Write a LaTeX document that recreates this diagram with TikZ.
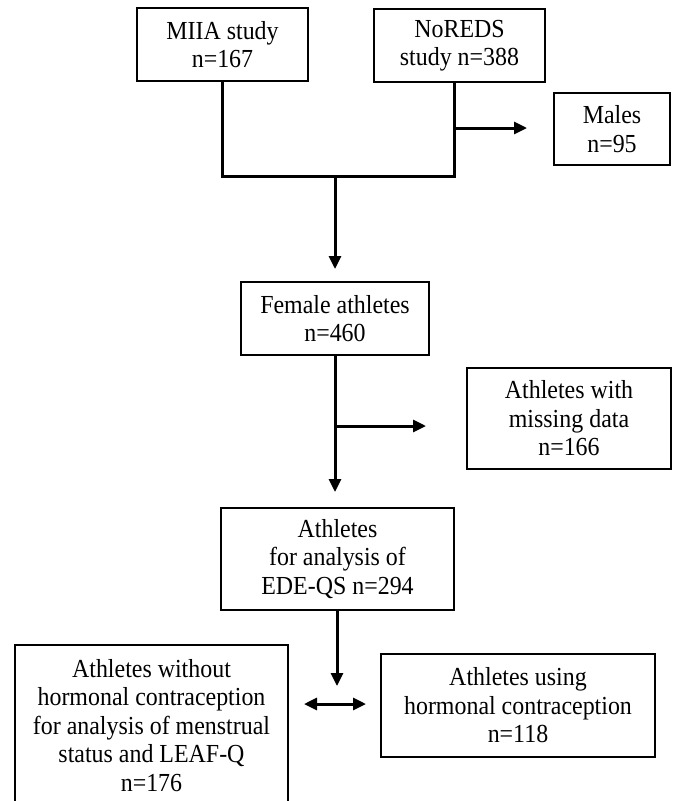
\documentclass[tikz,border=0pt]{standalone}
\usepackage{fontspec}
\setmainfont[FakeStretch=0.92]{Liberation Serif}
\usetikzlibrary{arrows.meta}
\begin{document}
\begin{tikzpicture}[x=1pt,y=-1pt,
  box/.style={draw,line width=2pt,rectangle,align=center,inner sep=0pt,
    font=\fontsize{26}{28.5}\selectfont},
  conn/.style={line width=3pt},
  arr/.style={conn,-{Triangle[length=13pt,width=12pt]}},
  darr/.style={conn,{Triangle[length=13pt,width=12pt]}-{Triangle[length=13pt,width=12pt]}}]
\useasboundingbox (0,0) rectangle (676,801);
\node[box,minimum width=171pt,minimum height=73pt] (miia) at (222.5,44.5) {MIIA study\\n=167};
\node[box,minimum width=171pt,minimum height=73pt] (noreds) at (459.5,45.5) {NoREDS\\study n=388};
\node[box,minimum width=116pt,minimum height=72pt] (males) at (612,129) {Males\\n=95};
\node[box,minimum width=188pt,minimum height=73pt] (female) at (335,318.5) {Female athletes\\n=460};
\node[box,minimum width=204pt,minimum height=101pt] (missing) at (569,418.5) {Athletes with\\missing data\\n=166};
\node[box,minimum width=233pt,minimum height=102pt] (ede) at (337.5,559) {Athletes\\for analysis of\\EDE-QS n=294};
\node[box,minimum width=273pt,minimum height=161pt] (left) at (151.5,725.5) {Athletes without\\hormonal contraception\\for analysis of menstrual\\status and LEAF-Q\\n=176};
\node[box,minimum width=274pt,minimum height=103pt] (right) at (518,705.5) {Athletes using\\hormonal contraception\\n=118};
\coordinate (j1) at (222,176);
\coordinate (j2) at (454,176);
\coordinate (jm) at (335,176);
\coordinate (b1) at (454,128);
\coordinate (b2) at (335,426);
\coordinate (e1) at (337,686);
\coordinate (d1) at (303,704);
\coordinate (d2) at (367,704);
\draw[conn,line join=miter] (miia.south -| j1) -- (j1) -- (j2) -- (noreds.south -| j2);
\draw[arr,shorten >=26pt] (b1) -- (b1 -| males.west);
\draw[arr,shorten >=12pt] (jm) -- (jm |- female.north);
\draw[arr,shorten >=15pt] (female.south) -- (female.south |- ede.north);
\draw[arr,shorten >=40pt] (b2) -- (b2 -| missing.west);
\draw[arr] (ede.south -| e1) -- (e1);
\draw[darr,shorten <=15pt,shorten >=14pt] (left.east |- d1) -- (right.west |- d2);
\end{tikzpicture}
\end{document}
